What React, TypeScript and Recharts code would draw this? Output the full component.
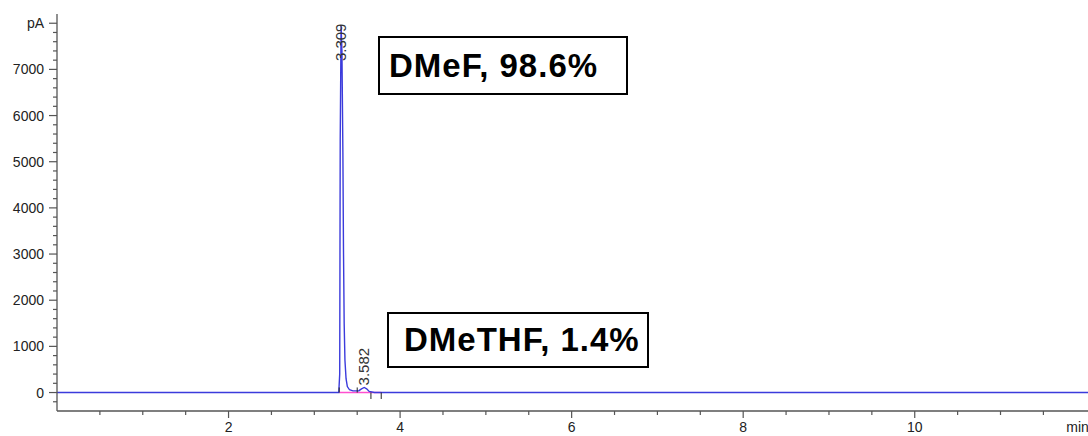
import React from "react"
import { LineChart, Line, XAxis, YAxis, ReferenceLine, ReferenceDot } from "recharts"

// chromatogram trace (min, pA)
const traceTime = [0, 3.285, 3.296, 3.302, 3.312, 3.322, 3.333, 3.34, 3.348, 3.357, 3.37, 3.385, 3.41, 3.45, 3.52, 3.55, 3.582, 3.61, 3.64, 3.7, 12.02]
const traceValue = [0, 0, 400, 5500, 7950, 7400, 5200, 3100, 1500, 700, 300, 130, 60, 35, 40, 80, 110, 80, 25, 0, 0]

// integration baseline + event marks
const baselineTime = [3.29, 3.78]
const markUpTimes = [3.29, 3.5]
const markDownTimes = [3.66, 3.78]

// peak annotations
const peakTimes = [3.309, 3.582]
const peakHeights = [7950, 110]
const peakLabels = ["3.309", "3.582"]

const xTicks = [0.5, 1, 1.5, 2, 2.5, 3, 3.5, 4, 4.5, 5, 5.5, 6, 6.5, 7, 7.5, 8, 8.5, 9, 9.5, 10, 10.5, 11, 11.5, 12]
const xLabels = [2, 4, 6, 8, 10]
const yTicks = Array.from({ length: 42 }, (_, i) => -200 + i * 200)
const yLabels = [0, 1000, 2000, 3000, 4000, 5000, 6000, 7000]

const trace = traceTime.map((t, i) => ({ t, v: traceValue[i] }))
const baseline = baselineTime.map((t) => ({ t, v: 0 }))

const AXIS = "#555"
const FONT = "'Liberation Sans', Arial, sans-serif"

const XTick = (props: any) => {
  const { x, y, payload } = props
  const v = payload.value
  if (v === 12) {
    return (
      <text x={x - 20} y={y + 21} fontSize={14} fontFamily={FONT} fill="#222">
        min
      </text>
    )
  }
  const major = xLabels.includes(v)
  return (
    <g>
      <line x1={x} x2={x} y1={y} y2={y + (major ? 7 : 4)} stroke={AXIS} strokeWidth={1.2} />
      {major && (
        <text x={x} y={y + 21} textAnchor="middle" fontSize={14} fontFamily={FONT} fill="#222">
          {v}
        </text>
      )}
    </g>
  )
}

const YTick = (props: any) => {
  const { x, y, payload } = props
  const v = payload.value
  const isTop = v === 8000
  const major = yLabels.includes(v) || isTop
  return (
    <g>
      <line x1={x - (major ? 8 : 4)} x2={x} y1={y} y2={y} stroke={AXIS} strokeWidth={1.2} />
      {major && (
        <text x={x - 13} y={y + 5} textAnchor="end" fontSize={14} fontFamily={FONT} fill="#222">
          {isTop ? "pA" : v}
        </text>
      )}
    </g>
  )
}

const peakLabel = (i: number) => (p: any) => {
  const { viewBox } = p
  const cx = viewBox.x + viewBox.width / 2
  const cy = viewBox.y + viewBox.height / 2
  const px = cx + 5
  const py = cy - 2
  return (
    <text
      x={px}
      y={py}
      transform={`rotate(-90 ${px} ${py})`}
      textAnchor={i === 0 ? "end" : "start"}
      fontSize={15}
      fontFamily={FONT}
      fill="#333"
    >
      {peakLabels[i]}
    </text>
  )
}

const boxStyle: React.CSSProperties = {
  position: "absolute",
  border: "2px solid #000",
  background: "#fff",
  boxSizing: "border-box",
  fontFamily: FONT,
  fontWeight: "bold",
  fontSize: 33,
  letterSpacing: 1,
  color: "#000",
  display: "flex",
  alignItems: "center",
  whiteSpace: "nowrap",
}

export default function App() {
  return (
    <div style={{ position: "absolute", left: 0, top: 0, width: 1088, height: 436, background: "#fff" }}>
      <LineChart width={1088} height={436} margin={{ top: 14, right: 0, bottom: 0, left: 0 }}>
        <XAxis
          type="number"
          dataKey="t"
          domain={[0, 12.02]}
          ticks={xTicks}
          interval={0}
          tickSize={0}
          tickMargin={0}
          tickLine={false}
          tick={<XTick />}
          height={25}
          stroke={AXIS}
          strokeWidth={1.3}
          allowDataOverflow
        />
        <YAxis
          type="number"
          domain={[-400, 8200]}
          ticks={yTicks}
          interval={0}
          tickSize={0}
          tickMargin={0}
          tickLine={false}
          tick={<YTick />}
          width={57}
          stroke={AXIS}
          strokeWidth={1.3}
          allowDataOverflow
        />
        <Line
          data={baseline}
          dataKey="v"
          stroke="#ff4fd0"
          strokeWidth={1.5}
          dot={false}
          isAnimationActive={false}
        />
        <Line
          data={trace}
          dataKey="v"
          type="linear"
          stroke="#3b3bdc"
          strokeWidth={1.4}
          dot={false}
          isAnimationActive={false}
        />
        {markUpTimes.map((t) => (
          <ReferenceLine key={`u${t}`} segment={[{ x: t, y: 0 }, { x: t, y: 110 }]} stroke="#222" strokeWidth={1} />
        ))}
        {markDownTimes.map((t) => (
          <ReferenceLine key={`d${t}`} segment={[{ x: t, y: 0 }, { x: t, y: -140 }]} stroke="#222" strokeWidth={1} />
        ))}
        {peakTimes.map((t, i) => (
          <ReferenceDot key={t} x={t} y={peakHeights[i]} r={1} fill="none" stroke="none" label={peakLabel(i)} />
        ))}
      </LineChart>
      <div style={{ ...boxStyle, left: 378, top: 36, width: 250, height: 59, paddingLeft: 9 }}>DMeF, 98.6%</div>
      <div style={{ ...boxStyle, left: 387, top: 312, width: 262, height: 56, paddingLeft: 15 }}>DMeTHF, 1.4%</div>
    </div>
  )
}
